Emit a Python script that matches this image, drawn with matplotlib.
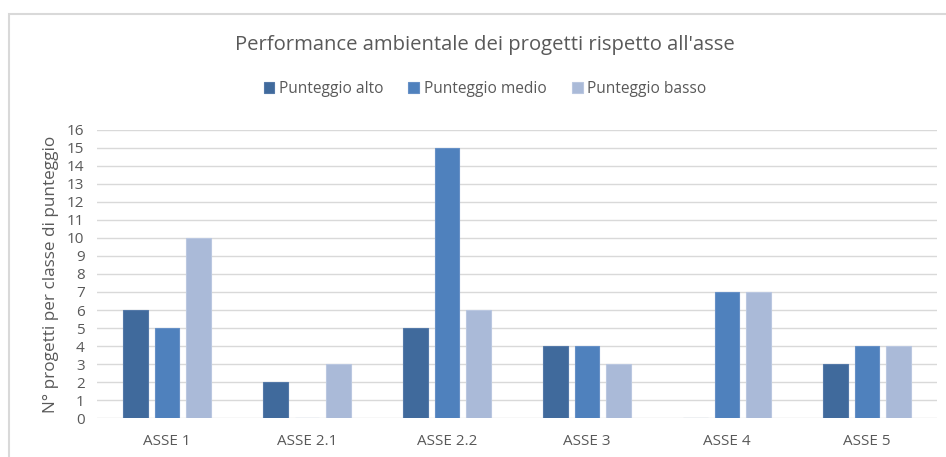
import matplotlib
matplotlib.use("Agg")
import matplotlib.pyplot as plt
import numpy as np
from matplotlib.patches import Rectangle

categories = ["ASSE 1", "ASSE 2.1", "ASSE 2.2", "ASSE 3", "ASSE 4", "ASSE 5"]
series_names = ["Punteggio alto", "Punteggio medio", "Punteggio basso"]
alto = [6, 2, 5, 4, 0, 3]
medio = [5, 0, 15, 4, 7, 4]
basso = [10, 3, 6, 3, 7, 4]
colors = ["#406A9C", "#4F81BD", "#AABAD8"]
edge_colors = ["#5479A8", "#6690C6", "#BAC7E0"]

plt.rcParams["font.family"] = ["Open Sans", "DejaVu Sans"]
text_color = "#595959"

fig = plt.figure(figsize=(9.46, 4.57), dpi=100)
ax = fig.add_axes([97 / 946, 1 - 418.3 / 457, 840 / 946, 288.8 / 457])

x = np.arange(len(categories))
width = 0.175
pitch = 0.2236
for i, (vals, name) in enumerate(zip([alto, medio, basso], series_names)):
    ax.bar(x + (i - 1) * pitch, vals, width, color=colors[i],
           edgecolor=edge_colors[i], linewidth=0.8, label=name, zorder=3)

ax.set_xlim(-0.5, len(categories) - 0.5)
ax.set_ylim(0, 16)
ax.set_yticks(range(0, 17))
ax.set_xticks(x)
ax.set_xticklabels(categories)
ax.grid(axis="y", color="#D9D9D9", linewidth=1.0, zorder=0)
for s in ax.spines.values():
    s.set_visible(False)
ax.tick_params(axis="both", length=0, colors=text_color, labelsize=11)
ax.tick_params(axis="x", pad=11)
ax.tick_params(axis="y", pad=9)
ax.set_ylabel("N° progetti per classe di punteggio", color=text_color,
              fontsize=12.3, labelpad=6)

center_x = 485 / 946
fig.text(center_x, 1 - 45 / 457, "Performance ambientale dei progetti rispetto all'asse",
         ha="center", va="center", fontsize=14.6, color=text_color)

handles, labels = ax.get_legend_handles_labels()
fig.legend(handles, labels, loc="center", bbox_to_anchor=(center_x, 1 - 89 / 457),
           ncol=3, frameon=False, fontsize=11.2, labelcolor=text_color,
           handlelength=0.7, handleheight=0.7, handletextpad=0.3,
           columnspacing=1.6)

fig.patches.append(Rectangle((8.5 / 946, -0.1), 2, 1.1 - 14.5 / 457,
                             transform=fig.transFigure, fill=False,
                             edgecolor="#D9D9D9", linewidth=1.5))

fig.savefig("out.png", dpi=100)
